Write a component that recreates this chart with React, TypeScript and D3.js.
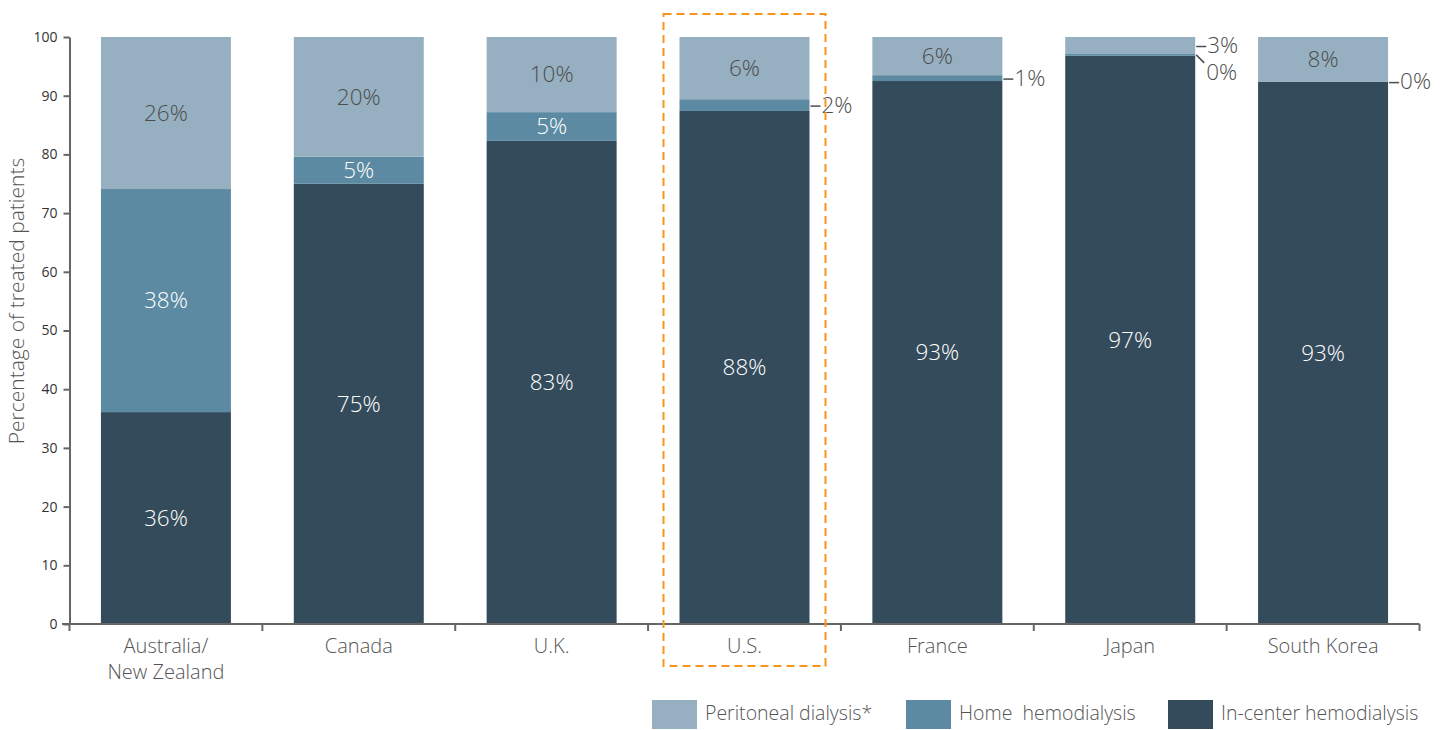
import React, { useEffect, useRef } from 'react';
import * as d3 from 'd3';

const countries = ['Australia/\nNew Zealand', 'Canada', 'U.K.', 'U.S.', 'France', 'Japan', 'South Korea'];
const inCenter = [36.1, 75.0, 82.3, 87.4, 92.5, 96.8, 92.4];
const homeHD = [38.0, 4.6, 4.9, 2.0, 1.0, 0.3, 0.0];
const peritoneal = [25.9, 20.4, 12.8, 10.6, 6.5, 2.9, 7.6];
const inCenterLabels = ['36%', '75%', '83%', '88%', '93%', '97%', '93%'];
const homeLabels = ['38%', '5%', '5%', '2%', '1%', '0%', '0%'];
const peritonealLabels = ['26%', '20%', '10%', '6%', '6%', '3%', '8%'];
const yTicks = [0, 10, 20, 30, 40, 50, 60, 70, 80, 90, 100];
const highlighted = 'U.S.';

const seriesNames = ['Peritoneal dialysis*', 'Home  hemodialysis', 'In-center hemodialysis'];
const colors = ['#96B0C1', '#5B8AA2', '#344B5B'];
const labelColors = ['#4d4d4d', '#ffffff', '#ffffff'];

function App() {
  const svgRef = useRef<SVGSVGElement>(null);

  useEffect(() => {
    if (!svgRef.current) return;
    const width = 1447;
    const height = 730;
    const font = '"Open Sans", "Noto Sans", sans-serif';
    const labelSize = 22.5;

    d3.select(svgRef.current).selectAll('*').remove();
    const svg = d3.select(svgRef.current)
      .attr('width', width)
      .attr('height', height)
      .attr('viewBox', `0 0 ${width} ${height}`)
      .style('font-family', font)
      .style('font-weight', 300);

    const x = d3.scaleBand<string>()
      .domain(countries)
      .range([69.5, 1419.5])
      .paddingInner(0.326)
      .paddingOuter(0.163);
    const y = d3.scaleLinear().domain([0, 100]).range([624, 37]);

    // stacked rows: bottom to top
    const rows = countries.map((c, i) => ({
      country: c,
      inCenter: inCenter[i],
      home: homeHD[i],
      peritoneal: peritoneal[i],
    }));
    const keys = ['inCenter', 'home', 'peritoneal'];
    const stack = d3.stack<any>().keys(keys)(rows);
    const colorOf: Record<string, string> = { inCenter: colors[2], home: colors[1], peritoneal: colors[0] };
    const textColorOf: Record<string, string> = { inCenter: labelColors[2], home: labelColors[1], peritoneal: labelColors[0] };
    const labelsOf: Record<string, string[]> = { inCenter: inCenterLabels, home: homeLabels, peritoneal: peritonealLabels };

    stack.forEach(layer => {
      svg.append('g')
        .selectAll('rect')
        .data(layer)
        .join('rect')
        .attr('x', d => x(d.data.country)!)
        .attr('width', x.bandwidth())
        .attr('y', d => y(d[1]))
        .attr('height', d => y(d[0]) - y(d[1]))
        .attr('fill', colorOf[layer.key]);
    });

    // segment labels, small segments get a leader line to the right
    const outsideLast: Record<string, number> = {};
    [...stack].reverse().forEach(layer => {
      layer.forEach((d, i) => {
        const x0 = x(d.data.country)!;
        const top = y(d[1]);
        const bottom = y(d[0]);
        const mid = (top + bottom) / 2;
        const text = labelsOf[layer.key][i];
        if (bottom - top > 22) {
          svg.append('text')
            .attr('x', x0 + x.bandwidth() / 2)
            .attr('y', mid)
            .attr('dy', '0.35em')
            .attr('text-anchor', 'middle')
            .attr('font-size', labelSize)
            .attr('fill', textColorOf[layer.key])
            .text(text);
        } else {
          const edge = x0 + x.bandwidth() + 1;
          const prev = outsideLast[d.data.country];
          if (prev !== undefined && mid - prev < 24) {
            const ty = prev + 27;
            svg.append('line')
              .attr('x1', edge).attr('y1', mid)
              .attr('x2', edge + 8).attr('y2', mid + 8)
              .attr('stroke', '#4d4d4d').attr('stroke-width', 1.5);
            svg.append('text')
              .attr('x', edge + 10)
              .attr('y', ty)
              .attr('dy', '0.35em')
              .attr('font-size', labelSize)
              .attr('fill', '#4d4d4d')
              .text(text);
            outsideLast[d.data.country] = ty;
          } else {
            svg.append('line')
              .attr('x1', edge).attr('y1', mid + 1)
              .attr('x2', edge + 10).attr('y2', mid + 1)
              .attr('stroke', '#4d4d4d').attr('stroke-width', 1.5);
            svg.append('text')
              .attr('x', edge + 11)
              .attr('y', mid)
              .attr('dy', '0.35em')
              .attr('font-size', labelSize)
              .attr('fill', '#4d4d4d')
              .text(text);
            outsideLast[d.data.country] = mid;
          }
        }
      });
    });

    // y axis
    const yAxis = svg.append('g').attr('transform', 'translate(69.5,0)')
      .call(d3.axisLeft(y).tickValues(yTicks).tickSize(6).tickPadding(6).tickSizeOuter(0));
    yAxis.select('.domain').attr('stroke', '#666').attr('stroke-width', 2);
    yAxis.selectAll('.tick line').attr('stroke', '#666').attr('stroke-width', 2);
    yAxis.selectAll('.tick text').attr('font-size', 14).attr('fill', '#333')
      .attr('font-family', font).attr('font-weight', 400);

    // x axis
    const xg = svg.append('g').attr('transform', 'translate(0,624)');
    xg.append('line')
      .attr('x1', 62).attr('x2', 1419.5)
      .attr('stroke', '#666').attr('stroke-width', 2);
    const step = x.step();
    const boundaries = d3.range(countries.length + 1).map(i => 69.5 + i * step);
    xg.selectAll('.btick')
      .data(boundaries)
      .join('line')
      .attr('x1', d => d).attr('x2', d => d)
      .attr('y1', 0).attr('y2', 7)
      .attr('stroke', '#666').attr('stroke-width', 2);
    countries.forEach(c => {
      const t = xg.append('text')
        .attr('x', x(c)! + x.bandwidth() / 2)
        .attr('y', 29)
        .attr('text-anchor', 'middle')
        .attr('font-size', 20)
        .attr('fill', '#555');
      c.split('\n').forEach((line, j) => {
        t.append('tspan')
          .attr('x', x(c)! + x.bandwidth() / 2)
          .attr('dy', j === 0 ? 0 : 26)
          .text(line);
      });
    });

    // y title
    svg.append('text')
      .attr('transform', 'translate(24,301) rotate(-90)')
      .attr('text-anchor', 'middle')
      .attr('font-size', 21)
      .attr('fill', '#555')
      .text('Percentage of treated patients');

    // highlight box
    const hx = x(highlighted)!;
    svg.append('rect')
      .attr('x', hx - 16)
      .attr('y', 14)
      .attr('width', x.bandwidth() + 32)
      .attr('height', 652)
      .attr('fill', 'none')
      .attr('stroke', '#F7941D')
      .attr('stroke-width', 2)
      .attr('stroke-dasharray', '8,5');

    // legend
    const legendX = [652, 906, 1168];
    seriesNames.forEach((name, i) => {
      svg.append('rect')
        .attr('x', legendX[i]).attr('y', 700)
        .attr('width', 45).attr('height', 29)
        .attr('fill', colors[i]);
      svg.append('text')
        .attr('x', legendX[i] + 53)
        .attr('y', 713)
        .attr('dy', '0.35em')
        .attr('font-size', 19.5)
        .attr('fill', '#555')
        .style('white-space', 'pre')
        .text(name);
    });
  }, []);

  return (
    <div style={{ position: 'absolute', left: 0, top: 0 }}>
      <svg ref={svgRef}></svg>
    </div>
  );
}

export default App;
